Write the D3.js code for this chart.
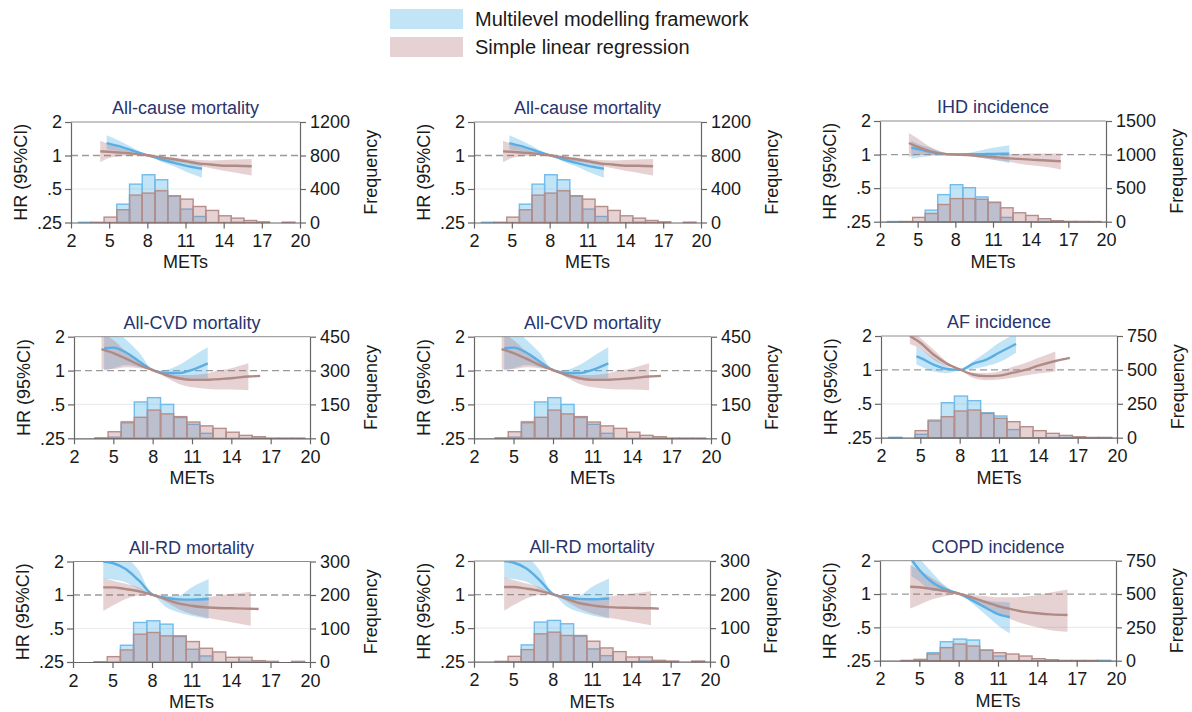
<!DOCTYPE html>
<html>
<head>
<meta charset="utf-8">
<script src="https://cdn.jsdelivr.net/npm/d3@7"></script>
<style>
  body { margin: 0; background: #fff; }
  svg { display: block; font-family: "Liberation Sans", Arial, Helvetica, sans-serif; }
</style>
</head>
<body>
<svg id="chart" width="1192" height="712"></svg>
<script>
// ---- shared axis values ----
const metsTicks = [2, 5, 8, 11, 14, 17, 20];
const hrTicks = [0.25, 0.5, 1, 2];
const hrTickLabels = [".25", ".5", "1", "2"];
const binStarts = [2.6, 3.6, 4.6, 5.6, 6.6, 7.6, 8.6, 9.6, 10.6, 11.6, 12.6, 13.6, 14.6, 15.6, 16.6, 17.6, 18.6];
const binWidth = 1;

const seriesNames = ["Multilevel modelling framework", "Simple linear regression"];

// ---- hazard-ratio curves: [METs, HR, lower 95% CI, upper 95% CI] ----
const allCauseMulti = [
  [4.8, 1.29, 1.14, 1.52], [6, 1.19, 1.09, 1.32], [7, 1.09, 1.035, 1.15], [8.1, 1, 1, 1],
  [9, 0.93, 0.89, 0.966], [10, 0.865, 0.81, 0.92], [11, 0.81, 0.72, 0.88], [12.3, 0.76, 0.63, 0.84]
];
const allCauseLinear = [
  [4.3, 1.09, 0.87, 1.36], [5, 1.08, 0.95, 1.27], [6, 1.06, 0.99, 1.15], [7, 1.035, 1.005, 1.06],
  [8.1, 1, 1, 1], [9, 0.966, 0.93, 0.986], [10, 0.93, 0.89, 0.96], [11, 0.89, 0.85, 0.93],
  [12, 0.85, 0.81, 0.91], [13, 0.83, 0.77, 0.90], [14, 0.81, 0.73, 0.91], [15, 0.81, 0.70, 0.92],
  [16.2, 0.80, 0.66, 0.93]
];
const ihdMulti = [
  [4.5, 1.15, 0.92, 1.34], [5, 1.12, 0.935, 1.25], [6, 1.055, 0.97, 1.15], [7, 1.01, 0.98, 1.05],
  [8.1, 1, 1, 1], [9, 1.007, 0.975, 1.035], [10, 1.007, 0.935, 1.09], [11, 1.015, 0.90, 1.15],
  [12.3, 1.02, 0.84, 1.21]
];
const ihdLinear = [
  [4.3, 1.27, 0.95, 1.56], [5, 1.17, 0.99, 1.39], [6, 1.07, 0.99, 1.17], [7, 1.02, 0.99, 1.05],
  [8.1, 1, 1, 1], [9, 0.99, 0.97, 1.0], [10, 0.97, 0.935, 1.0], [11, 0.95, 0.90, 1.01],
  [12, 0.93, 0.87, 1.01], [13, 0.915, 0.83, 1.01], [14, 0.90, 0.80, 1.02], [15, 0.89, 0.78, 1.02],
  [16.4, 0.87, 0.735, 1.02]
];
const cvdMulti = [
  [4.3, 1.58, 1.0, 2.4], [5, 1.6, 1.05, 2.3], [6, 1.44, 1.12, 1.87], [7, 1.2, 1.07, 1.43],
  [8.1, 1, 1, 1], [9, 0.95, 0.88, 1.014], [10, 0.95, 0.83, 1.12], [11, 1.014, 0.815, 1.33],
  [12.2, 1.16, 0.826, 1.61]
];
const cvdLinear = [
  [4.1, 1.55, 1.02, 2.2], [5, 1.43, 1.03, 1.87], [6, 1.27, 1.07, 1.47], [7, 1.12, 1.05, 1.2],
  [8.1, 1, 1, 1], [9, 0.915, 0.87, 0.95], [10, 0.855, 0.76, 0.915], [11, 0.826, 0.71, 0.915],
  [12, 0.826, 0.69, 0.935], [13, 0.84, 0.68, 1.0], [14, 0.855, 0.68, 1.05], [15.3, 0.885, 0.67, 1.16],
  [16.2, 0.897, null, null]
];
const afMulti = [
  [4.7, 1.32, 1.115, 1.62], [5, 1.28, 1.08, 1.54], [6, 1.115, 0.97, 1.28], [7, 1.02, 0.94, 1.08],
  [8.1, 1, 1, 1], [9, 1.13, 1.02, 1.19], [10, 1.23, 1.08, 1.43], [11, 1.42, 1.17, 1.74],
  [12.3, 1.7, 1.42, 2.1]
];
const afLinear = [
  [4.2, 2.0, 1.7, 2.35], [5, 1.74, 1.54, 1.92], [6, 1.37, 1.24, 1.52], [7, 1.14, 1.08, 1.19],
  [8.1, 1, 1, 1], [9, 0.91, 0.85, 0.95], [10, 0.88, 0.81, 0.94], [11, 0.89, 0.82, 0.97],
  [12, 0.94, 0.85, 1.06], [13, 1.0, 0.89, 1.15], [14, 1.09, 0.93, 1.28], [15.3, 1.2, 0.97, 1.46],
  [16.4, 1.28, null, null]
];
const rdMulti = [
  [4.3, 2.0, 1.4, 2.8], [5, 1.94, 1.38, 2.6], [6, 1.71, 1.3, 2.2], [7, 1.35, 1.13, 1.66],
  [8.1, 1, 1, 1], [9, 0.946, 0.79, 0.98], [10, 0.914, 0.70, 0.986], [11, 0.908, 0.65, 1.17],
  [12.3, 0.92, 0.61, 1.39]
];
const rdLinear = [
  [4.3, 1.17, 0.72, 1.42], [5, 1.17, 0.80, 1.35], [6, 1.13, 0.92, 1.26], [7, 1.08, 0.99, 1.17],
  [8.1, 1, 1, 1], [9, 0.92, 0.877, 0.966], [10, 0.84, 0.75, 0.93], [11, 0.80, 0.675, 0.92],
  [12, 0.775, 0.63, 0.95], [13, 0.764, 0.60, 0.986], [14, 0.76, 0.57, 1.02], [15.5, 0.753, 0.53, 1.07],
  [16.1, 0.748, null, null]
];
const copdMulti = [
  [4.4, 2.05, 1.45, 2.5], [5, 1.65, 1.3, 2.1], [6, 1.27, 1.07, 1.55], [7, 1.1, 1.05, 1.18],
  [8.1, 1, 1, 1], [9, 0.88, 0.83, 0.94], [10, 0.76, 0.66, 0.88], [11, 0.66, 0.52, 0.85],
  [11.9, 0.62, 0.44, 0.84]
];
const copdLinear = [
  [4.3, 1.165, 0.74, 1.83], [5, 1.15, 0.80, 1.65], [6, 1.11, 0.895, 1.39], [7, 1.065, 0.96, 1.165],
  [8.1, 1, 1, 1], [9, 0.933, 0.88, 0.98], [10, 0.85, 0.76, 0.96], [11, 0.78, 0.67, 0.933],
  [12, 0.73, 0.59, 0.933], [13, 0.69, 0.535, 0.946], [14, 0.67, 0.50, 0.98], [15, 0.655, 0.47, 1.03],
  [16.3, 0.646, 0.457, 1.1]
];

// ---- METs frequency histograms (one count per bin in binStarts) ----
const allCauseHistMulti  = [3, 0, 0, 219, 458, 570, 510, 315, 160, 72, 0, 0, 2, 0, 0, 0, 0];
const allCauseHistLinear = [0, 3, 64, 152, 327, 351, 379, 319, 279, 191, 144, 80, 52, 24, 8, 0, 4];
const ihdHistMulti  = [3, 0, 0, 172, 403, 551, 507, 369, 285, 64, 0, 0, 3, 0, 0, 0, 0];
const ihdHistLinear = [0, 3, 64, 123, 256, 344, 344, 334, 290, 207, 133, 93, 44, 15, 5, 4, 3];
const cvdHistMulti  = [0, 0, 5, 74, 161, 180, 150, 92, 62, 22, 0, 0, 0, 0, 0, 0, 0];
const cvdHistLinear = [0, 2, 29, 69, 93, 125, 108, 96, 72, 55, 44, 27, 13, 7, 1, 1, 1];
const afHistMulti  = [3, 0, 25, 130, 258, 307, 273, 184, 160, 60, 0, 0, 2, 2, 0, 0, 0];
const afHistLinear = [0, 0, 52, 123, 155, 197, 204, 179, 143, 118, 81, 52, 32, 17, 7, 2, 2];
const rdHistMulti  = [0, 0, 0, 50, 118, 123, 113, 76, 38, 18, 0, 0, 2, 0, 0, 0, 0];
const rdHistLinear = [0, 1, 16, 36, 83, 88, 78, 78, 61, 41, 30, 14, 14, 4, 2, 0, 2];
const copdHistMulti  = [0, 0, 0, 60, 142, 162, 155, 78, 35, 0, 0, 0, 0, 0, 0, 0, 3];
const copdHistLinear = [0, 2, 10, 50, 98, 125, 110, 80, 60, 50, 35, 15, 7, 2, 2, 2, 0];

// ---- frequency axis ticks ----
const allCauseFreqTicks = [0, 400, 800, 1200];
const ihdFreqTicks = [0, 500, 1000, 1500];
const cvdFreqTicks = [0, 150, 300, 450];
const afFreqTicks = [0, 250, 500, 750];
const rdFreqTicks = [0, 100, 200, 300];
const copdFreqTicks = [0, 250, 500, 750];

const outcomes = {
  allCause: { title: "All-cause mortality", freqTicks: allCauseFreqTicks, multi: allCauseMulti, linear: allCauseLinear, histMulti: allCauseHistMulti, histLinear: allCauseHistLinear },
  ihd:      { title: "IHD incidence", freqTicks: ihdFreqTicks, multi: ihdMulti, linear: ihdLinear, histMulti: ihdHistMulti, histLinear: ihdHistLinear },
  cvd:      { title: "All-CVD mortality", freqTicks: cvdFreqTicks, multi: cvdMulti, linear: cvdLinear, histMulti: cvdHistMulti, histLinear: cvdHistLinear },
  af:       { title: "AF incidence", freqTicks: afFreqTicks, multi: afMulti, linear: afLinear, histMulti: afHistMulti, histLinear: afHistLinear },
  rd:       { title: "All-RD mortality", freqTicks: rdFreqTicks, multi: rdMulti, linear: rdLinear, histMulti: rdHistMulti, histLinear: rdHistLinear },
  copd:     { title: "COPD incidence", freqTicks: copdFreqTicks, multi: copdMulti, linear: copdLinear, histMulti: copdHistMulti, histLinear: copdHistLinear }
};
const panelOutcomes = ["allCause", "allCause", "ihd", "cvd", "cvd", "af", "rd", "rd", "copd"];

// ---- layout: plot rectangle of each panel [left, right, top, bottom] ----
const panelBoxes = [
  [71, 300, 122, 222.5], [474, 701, 122, 222.5], [880, 1106, 121, 221.7],
  [74, 310, 336.7, 438.3], [474, 711, 336.7, 438.3], [881, 1117, 336, 437.7],
  [73, 310, 561.5, 662], [474, 710, 561, 661.7], [880, 1116, 560.7, 660.7]
];

// ---- styles ----
const blue = { line: "#5aaee3", band: "rgba(86,180,233,0.36)", barFill: "rgba(86,180,233,0.36)", barStroke: "#72bce9" };
const brown = { line: "#b08a85", band: "rgba(175,105,110,0.30)", barFill: "rgba(175,105,110,0.30)", barStroke: "#b48e8a" };
const axisColor = "#666";
const textColor = "#1a1a1a";
const titleColor = "#27346f";
const fontSize = 18;

const svg = d3.select("#chart");
const defs = svg.append("defs");

// legend
const legend = svg.append("g");
[[blue, 9], [brown, 37]].forEach(([c, top], k) => {
  legend.append("rect").attr("x", 390).attr("y", top).attr("width", 73).attr("height", 20)
    .attr("fill", c.band);
  legend.append("text").attr("x", 475).attr("y", top + 10).attr("dy", "0.35em")
    .attr("font-size", 20).attr("fill", textColor).text(seriesNames[k]);
});

function styleAxis(g) {
  g.select(".domain").attr("stroke", axisColor).attr("stroke-width", 1.2);
  g.selectAll(".tick line").attr("stroke", axisColor).attr("stroke-width", 1.2);
  g.selectAll(".tick text").attr("fill", textColor).attr("font-size", fontSize)
    .attr("font-family", '"Liberation Sans", Arial, sans-serif');
  g.attr("font-size", null).attr("font-family", null);
}

panelBoxes.forEach((box, i) => {
  const o = outcomes[panelOutcomes[i]];
  const [x0, x1, y0, y1] = box;
  const x = d3.scaleLinear().domain([2, 20]).range([x0, x1]);
  const y = d3.scaleLog().base(2).domain([0.25, 2]).range([y1, y0]);
  const f = d3.scaleLinear().domain([0, d3.max(o.freqTicks)]).range([y1, y0]);

  const clipId = "plotclip" + i;
  defs.append("clipPath").attr("id", clipId).append("rect")
    .attr("x", x0).attr("y", y0).attr("width", x1 - x0).attr("height", y1 - y0);

  const g = svg.append("g");

  // gridlines
  g.append("line").attr("x1", x0).attr("x2", x1).attr("y1", y(0.5)).attr("y2", y(0.5))
    .attr("stroke", "#ececec").attr("stroke-width", 1.2);
  g.append("line").attr("x1", x0).attr("x2", x1).attr("y1", y(2)).attr("y2", y(2))
    .attr("stroke", "#8c8c8c").attr("stroke-width", 1);

  // histograms: multilevel first, linear regression overlaid
  const drawBars = (vals, c) => g.append("g").selectAll("rect")
    .data(binStarts.map((s, k) => ({ s, v: vals[k] })).filter(d => d.v > 0))
    .join("rect")
    .attr("x", d => x(d.s)).attr("width", d => x(d.s + binWidth) - x(d.s))
    .attr("y", d => f(d.v)).attr("height", d => y1 - f(d.v))
    .attr("fill", c.barFill).attr("stroke", c.barStroke).attr("stroke-width", 1.4);
  drawBars(o.histMulti, blue);
  drawBars(o.histLinear, brown);

  // reference line at HR = 1
  g.append("line").attr("x1", x0).attr("x2", x1).attr("y1", y(1)).attr("y2", y(1))
    .attr("stroke", "#9a9a9a").attr("stroke-width", 1.3).attr("stroke-dasharray", "7,4");

  // confidence bands and fitted curves
  const area = d3.area().defined(d => d[2] != null)
    .x(d => x(d[0])).y0(d => y(d[2])).y1(d => y(d[3])).curve(d3.curveMonotoneX);
  const line = d3.line().x(d => x(d[0])).y(d => y(d[1])).curve(d3.curveMonotoneX);
  const curves = g.append("g").attr("clip-path", `url(#${clipId})`);
  curves.append("path").attr("d", area(o.multi)).attr("fill", blue.band);
  curves.append("path").attr("d", area(o.linear)).attr("fill", brown.band);
  curves.append("path").attr("d", line(o.multi)).attr("fill", "none")
    .attr("stroke", blue.line).attr("stroke-width", 2.4);
  curves.append("path").attr("d", line(o.linear)).attr("fill", "none")
    .attr("stroke", brown.line).attr("stroke-width", 2.4);

  // axes
  const left = g.append("g").attr("transform", `translate(${x0},0)`)
    .call(d3.axisLeft(y).tickValues(hrTicks).tickFormat((d, k) => hrTickLabels[k])
      .tickSize(6).tickSizeOuter(0).tickPadding(3));
  styleAxis(left);
  const right = g.append("g").attr("transform", `translate(${x1},0)`)
    .call(d3.axisRight(f).tickValues(o.freqTicks).tickFormat(d3.format("d"))
      .tickSize(6).tickSizeOuter(0).tickPadding(4));
  styleAxis(right);
  const bottom = g.append("g").attr("transform", `translate(0,${y1})`)
    .call(d3.axisBottom(x).tickValues(metsTicks).tickSize(6).tickSizeOuter(0).tickPadding(6));
  styleAxis(bottom);

  // labels
  g.append("text").attr("x", (x0 + x1) / 2).attr("y", y0 - 14).attr("dy", "0.35em")
    .attr("text-anchor", "middle").attr("font-size", fontSize).attr("fill", titleColor).text(o.title);
  g.append("text").attr("x", (x0 + x1) / 2).attr("y", y1 + 39.5).attr("dy", "0.35em")
    .attr("text-anchor", "middle").attr("font-size", fontSize).attr("fill", textColor).text("METs");
  const yc = (y0 + y1) / 2;
  g.append("text").attr("transform", `translate(${x0 - 50},${yc}) rotate(-90)`).attr("dy", "0.35em")
    .attr("text-anchor", "middle").attr("font-size", fontSize).attr("fill", textColor).text("HR (95%CI)");
  let maxW = 0;
  right.selectAll(".tick text").each(function () { maxW = Math.max(maxW, this.getComputedTextLength()); });
  g.append("text").attr("transform", `translate(${x1 + 10 + maxW + 21},${yc}) rotate(-90)`).attr("dy", "0.35em")
    .attr("text-anchor", "middle").attr("font-size", fontSize).attr("fill", textColor).text("Frequency");
});
</script>
</body>
</html>
